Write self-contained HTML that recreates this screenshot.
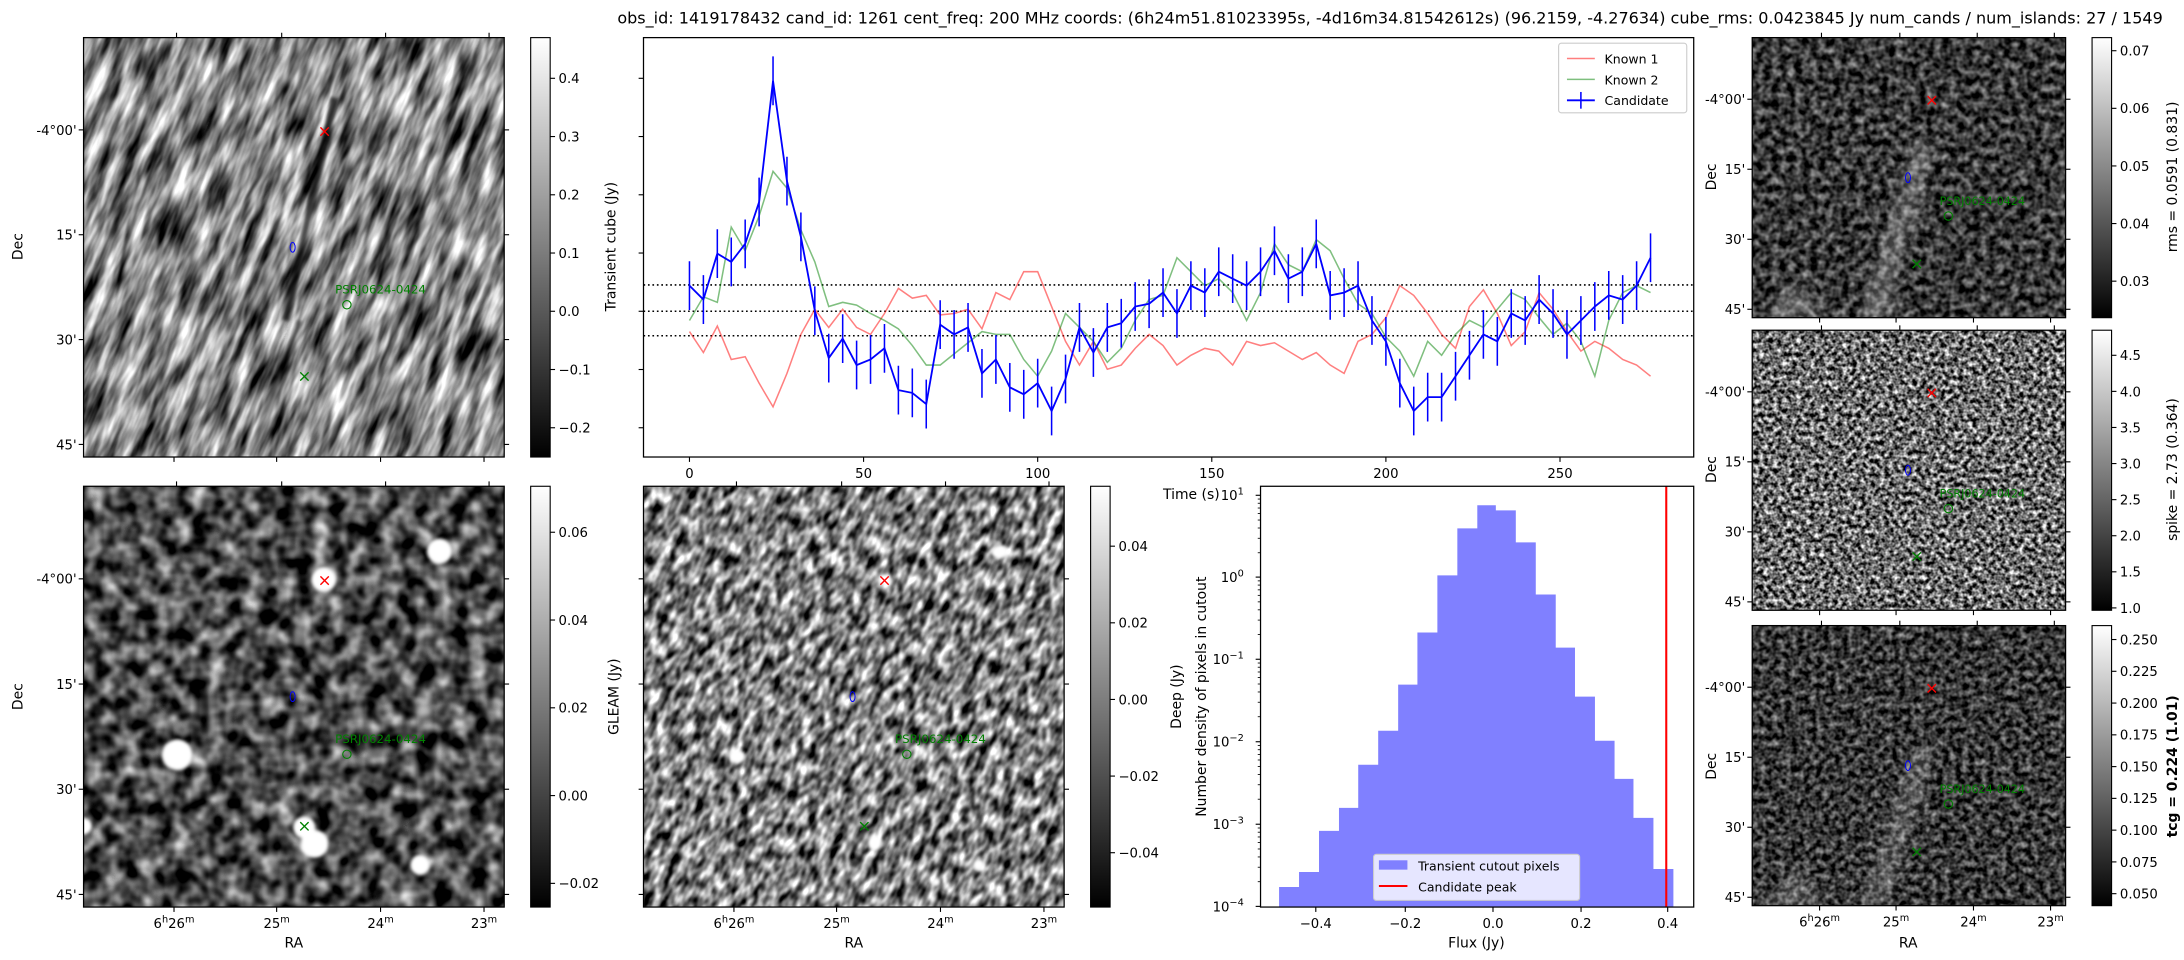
<!DOCTYPE html>
<html><head><meta charset="utf-8">
<style>
html,body{margin:0;padding:0;background:#fff;width:2184px;height:960px;overflow:hidden;}
svg{display:block;}
text{font-family:"DejaVu Sans","Liberation Sans",sans-serif;fill:#000;}
</style></head>
<body>
<svg id="s" xmlns="http://www.w3.org/2000/svg" width="2184" height="960" viewBox="0 0 1568 689" preserveAspectRatio="none">
<defs>
<filter id="fA" x="0" y="0" width="1" height="1" color-interpolation-filters="sRGB">
 <feTurbulence type="fractalNoise" baseFrequency="0.12 0.028" numOctaves="3" seed="4"/>
 <feColorMatrix type="matrix" values="1.7 0 0 0 -0.33  1.7 0 0 0 -0.33  1.7 0 0 0 -0.33  0 0 0 0 1"/>
</filter>
<filter id="fB" x="0" y="0" width="1" height="1" color-interpolation-filters="sRGB">
 <feTurbulence type="fractalNoise" baseFrequency="0.08" numOctaves="2" seed="9"/>
 <feColorMatrix type="matrix" values="1.5 0 0 0 -0.45  1.5 0 0 0 -0.45  1.5 0 0 0 -0.45  0 0 0 0 1"/>
</filter>
<filter id="fC" x="0" y="0" width="1" height="1" color-interpolation-filters="sRGB">
 <feTurbulence type="fractalNoise" baseFrequency="0.16 0.09" numOctaves="2" seed="2"/>
 <feColorMatrix type="matrix" values="1.9 0 0 0 -0.45  1.9 0 0 0 -0.45  1.9 0 0 0 -0.45  0 0 0 0 1"/>
</filter>
<filter id="fE" x="0" y="0" width="1" height="1" color-interpolation-filters="sRGB">
 <feTurbulence type="fractalNoise" baseFrequency="0.18" numOctaves="2" seed="5"/>
 <feColorMatrix type="matrix" values="1.1 0 0 0 -0.33  1.1 0 0 0 -0.33  1.1 0 0 0 -0.33  0 0 0 0 1"/>
</filter>
<filter id="fF" x="0" y="0" width="1" height="1" color-interpolation-filters="sRGB">
 <feTurbulence type="fractalNoise" baseFrequency="0.3" numOctaves="2" seed="7"/>
 <feColorMatrix type="matrix" values="2 0 0 0 -0.58  2 0 0 0 -0.58  2 0 0 0 -0.58  0 0 0 0 1"/>
</filter>
<filter id="fG" x="0" y="0" width="1" height="1" color-interpolation-filters="sRGB">
 <feTurbulence type="fractalNoise" baseFrequency="0.22" numOctaves="2" seed="11"/>
 <feColorMatrix type="matrix" values="1.1 0 0 0 -0.33  1.1 0 0 0 -0.33  1.1 0 0 0 -0.33  0 0 0 0 1"/>
</filter>
<filter id="blur1"><feGaussianBlur stdDeviation="1.2"/></filter>
<filter id="blur3"><feGaussianBlur stdDeviation="3"/></filter>
<linearGradient id="cb" x1="0" y1="1" x2="0" y2="0"><stop offset="0" stop-color="#000"/><stop offset="1" stop-color="#fff"/></linearGradient>
<clipPath id="cA"><rect x="60" y="27" width="302" height="301"/></clipPath>
<clipPath id="cB"><rect x="60" y="349" width="302" height="302"/></clipPath>
<clipPath id="cC"><rect x="462" y="349" width="302" height="302"/></clipPath>
<clipPath id="cE"><rect x="1258" y="27" width="225" height="201"/></clipPath>
<clipPath id="cF"><rect x="1258" y="237" width="225" height="201"/></clipPath>
<clipPath id="cG"><rect x="1258" y="449" width="225" height="201"/></clipPath>
</defs>

<text x="998" y="17" font-size="11.5" text-anchor="middle">obs_id: 1419178432 cand_id: 1261 cent_freq: 200 MHz coords: (6h24m51.81023395s, -4d16m34.81542612s) (96.2159, -4.27634) cube_rms: 0.0423845 Jy num_cands / num_islands: 27 / 1549</text>

<g clip-path="url(#cA)">
 <rect x="60" y="27" width="302" height="301" fill="#777"/>
 <g transform="rotate(22 211 177)"><rect x="-40" y="-80" width="500" height="520" filter="url(#fA)"/></g>
 <line x1="205" y1="230" x2="240" y2="70" stroke="#000" stroke-width="5" opacity="0.7" filter="url(#blur1)"/>
 <line x1="180" y1="328" x2="215" y2="230" stroke="#000" stroke-width="4" opacity="0.5" filter="url(#blur1)"/>
</g>
<g clip-path="url(#cB)">
 <rect x="60" y="349" width="302" height="302" filter="url(#fB)"/>
 <g fill="#fff" filter="url(#blur1)">
  <circle cx="315.5" cy="395.5" r="9"/><circle cx="232.5" cy="416" r="9"/><circle cx="127.3" cy="541.7" r="11"/>
  <circle cx="218.5" cy="593.9" r="8"/><circle cx="226" cy="605.7" r="10"/><circle cx="301.6" cy="620.8" r="7"/>
  <circle cx="60" cy="593" r="6"/>
 </g>
 <g fill="#ccc" filter="url(#blur3)"><circle cx="304" cy="510" r="5"/><circle cx="128" cy="440" r="4"/><circle cx="234" cy="473" r="4"/></g>
</g>
<g clip-path="url(#cC)">
 <rect x="462" y="349" width="302" height="302" fill="#888"/>
 <g transform="rotate(25 613 500)"><rect x="400" y="300" width="430" height="420" filter="url(#fC)"/></g>
 <g fill="#fff" filter="url(#blur1)">
  <ellipse cx="717.8" cy="396" rx="6" ry="4.5"/><ellipse cx="635" cy="416" rx="5" ry="4"/><ellipse cx="529.3" cy="543" rx="6" ry="5"/>
  <ellipse cx="628" cy="605" rx="5" ry="5.5"/><circle cx="702.7" cy="620.8" r="4"/><circle cx="672" cy="633" r="3"/>
 </g>
</g>
<g clip-path="url(#cE)">
 <rect x="1258" y="27" width="225" height="201" filter="url(#fE)"/>
 <g filter="url(#blur3)" fill="#fff" opacity="0.25">
  <polygon points="1375,100 1390,103 1355,228 1335,228"/>
  <polygon points="1265,228 1290,200 1310,228"/>
 </g>
</g>
<g clip-path="url(#cF)"><rect x="1258" y="237" width="225" height="201" filter="url(#fF)"/></g>
<g clip-path="url(#cG)">
 <rect x="1258" y="449" width="225" height="201" filter="url(#fG)"/>
 <g filter="url(#blur3)" fill="#fff" opacity="0.2">
  <polygon points="1375,535 1390,538 1355,650 1335,650"/>
  <polygon points="1265,650 1290,620 1310,650"/>
 </g>
</g>

<g id="dyn"></g>

<rect x="381" y="27" width="14" height="301" fill="url(#cb)" stroke="#000" stroke-width="0.8"/>
<rect x="381" y="349" width="14" height="302" fill="url(#cb)" stroke="#000" stroke-width="0.8"/>
<rect x="783" y="349" width="14" height="302" fill="url(#cb)" stroke="#000" stroke-width="0.8"/>
<rect x="1502" y="27" width="14" height="201" fill="url(#cb)" stroke="#000" stroke-width="0.8"/>
<rect x="1502" y="237" width="14" height="201" fill="url(#cb)" stroke="#000" stroke-width="0.8"/>
<rect x="1502" y="449" width="14" height="201" fill="url(#cb)" stroke="#000" stroke-width="0.8"/>

<text transform="translate(442 177) rotate(-90)" font-size="10" text-anchor="middle">Transient cube (Jy)</text>
<text transform="translate(444 500) rotate(-90)" font-size="10" text-anchor="middle">GLEAM (Jy)</text>
<text transform="translate(848 500) rotate(-90)" font-size="10" text-anchor="middle">Deep (Jy)</text>
<text transform="translate(866 500) rotate(-90)" font-size="10" text-anchor="middle">Number density of pixels in cutout</text>
<text x="835" y="358" font-size="10">Time (s)</text>
<text x="1060" y="680" font-size="10" text-anchor="middle">Flux (Jy)</text>
<text x="211" y="680" font-size="10" text-anchor="middle">RA</text>
<text x="613" y="680" font-size="10" text-anchor="middle">RA</text>
<text x="1370" y="680" font-size="10" text-anchor="middle">RA</text>
<text transform="translate(16 177) rotate(-90)" font-size="10" text-anchor="middle">Dec</text>
<text transform="translate(16 500) rotate(-90)" font-size="10" text-anchor="middle">Dec</text>
<text transform="translate(1232 127) rotate(-90)" font-size="10" text-anchor="middle">Dec</text>
<text transform="translate(1232 337) rotate(-90)" font-size="10" text-anchor="middle">Dec</text>
<text transform="translate(1232 550) rotate(-90)" font-size="10" text-anchor="middle">Dec</text>
<text transform="translate(1563 127) rotate(-90)" font-size="10" text-anchor="middle">rms = 0.0591 (0.831)</text>
<text transform="translate(1563 337) rotate(-90)" font-size="10" text-anchor="middle">spike = 2.73 (0.364)</text>
<text transform="translate(1563 550) rotate(-90)" font-size="10" font-weight="bold" text-anchor="middle">tcg = 0.224 (1.01)</text>
</svg>
<script>
(function(){
var g=document.getElementById("dyn");
var out="";
function L(x1,y1,x2,y2,st,w,extra){out+='<line x1="'+x1+'" y1="'+y1+'" x2="'+x2+'" y2="'+y2+'" stroke="'+st+'" stroke-width="'+(w||0.8)+'" '+(extra||'')+'/>';}
function T(x,y,s,anchor,size,fill,extra){out+='<text x="'+x+'" y="'+y+'" font-size="'+(size||9.5)+'" text-anchor="'+(anchor||'start')+'"'+(fill?' style="fill:'+fill+'"':'')+' '+(extra||'')+'>'+s+'</text>';}
function frame(x,y,w,h){out+='<rect x="'+x+'" y="'+y+'" width="'+w+'" height="'+h+'" fill="none" stroke="#000" stroke-width="0.9"/>';}
function img(x,y,w,h,labelsDec,labelsRA,big){
 frame(x,y,w,h);
 var df=[0.22,0.47,0.72,0.97],dl=["-4°00'","15'","30'","45'"];
 var tf=[0.221,0.471,0.718,0.964],bf=[0.215,0.459,0.706,0.952];
 for(var i=0;i<4;i++){var yy=y+df[i]*h;
  L(x-3.5,yy,x,yy,"#000");L(x+w,yy,x+w+3.5,yy,"#000");
  if(labelsDec)T(x-5,yy+3.5,dl[i],"end",9.5);
  L(x+tf[i]*w,y-3.5,x+tf[i]*w,y,"#000");
  L(x+bf[i]*w,y+h,x+bf[i]*w,y+h+3.5,"#000");
 }
 if(labelsRA){var rl=['6<tspan dy="-4" font-size="7">h</tspan><tspan dy="4">26</tspan><tspan dy="-4" font-size="7">m</tspan>','25<tspan dy="-4" font-size="7">m</tspan>','24<tspan dy="-4" font-size="7">m</tspan>','23<tspan dy="-4" font-size="7">m</tspan>'];
  for(var i=0;i<4;i++)T(x+bf[i]*w,y+h+15,rl[i],"middle",9.5);}
 var rx=x+0.573*w,ry=y+0.224*h;out+='<path d="M'+(rx-3)+' '+(ry-3)+'L'+(rx+3)+' '+(ry+3)+'M'+(rx+3)+' '+(ry-3)+'L'+(rx-3)+' '+(ry+3)+'" stroke="red" stroke-width="1"/>';
 var bx=x+0.497*w,by=y+0.5*h;out+='<ellipse cx="'+bx+'" cy="'+by+'" rx="1.8" ry="3.5" fill="none" stroke="blue" stroke-width="0.7"/>';
 var gx=x+0.525*w,gy=y+0.808*h;out+='<path d="M'+(gx-3)+' '+(gy-3)+'L'+(gx+3)+' '+(gy+3)+'M'+(gx+3)+' '+(gy-3)+'L'+(gx-3)+' '+(gy+3)+'" stroke="green" stroke-width="1"/>';
 var cx=x+0.626*w,cy=y+0.637*h;out+='<circle cx="'+cx+'" cy="'+cy+'" r="3" fill="none" stroke="green" stroke-width="0.8"/>';
 T(x+0.598*w,cy-8,"PSRJ0624-0424","start",big?8.5:8,"green");
}
img(60,27,302,301,true,false,true);
img(60,349,302,302,true,true,true);
img(462,349,302,302,false,true,true);
img(1258,27,225,201,true,false);
img(1258,237,225,201,true,false);
img(1258,449,225,201,true,true);
function cbt(x,arr){arr.forEach(function(a){L(x+14,a[1],x+17.5,a[1],"#000");T(x+20,a[1]+3.5,a[0],"start",9.5);});}
var ta=[];[0.4,0.3,0.2,0.1,0,-0.1,-0.2].forEach(function(v){ta.push([(v<0?"−":"")+Math.abs(v).toFixed(1),223.4-v*418]);});cbt(381,ta);
var tb=[];[0.06,0.04,0.02,0,-0.02].forEach(function(v,i){tb.push([(v<0?"−":"")+Math.abs(v).toFixed(2),382+i*63]);});cbt(381,tb);
var tc=[];[0.04,0.02,0,-0.02,-0.04].forEach(function(v,i){tc.push([(v<0?"−":"")+Math.abs(v).toFixed(2),392+i*55]);});cbt(783,tc);
var te=[];["0.07","0.06","0.05","0.04","0.03"].forEach(function(v,i){te.push([v,36.4+i*41.35]);});cbt(1502,te);
var tf2=[];["4.5","4.0","3.5","3.0","2.5","2.0","1.5","1.0"].forEach(function(v,i){tf2.push([v,255+i*25.9]);});cbt(1502,tf2);
var tg=[];["0.250","0.225","0.200","0.175","0.150","0.125","0.100","0.075","0.050"].forEach(function(v,i){tg.push([v,459+i*22.8]);});cbt(1502,tg);

var X0=462,Y0=27,W=754,H=301;
var blue=[205,215,182,188,175,145,58,130,170,223,257,243,262,258,250,280,282,290,233,240,235,268,258,278,283,275,295,272,235,253,235,232,220,218,210,225,205,210,195,200,205,195,180,200,195,175,212,210,205,230,245,275,295,285,285,270,255,240,245,225,230,215,225,240,230,220,212,215,205,185];
var red=[238,253,234,258,256,275,292,268,240,222,235,222,235,240,225,207,214,212,226,225,222,236,210,215,195,195,220,245,262,245,265,262,250,240,248,262,255,250,252,262,245,248,246,252,258,253,262,268,245,240,228,205,212,225,240,250,220,208,225,248,238,210,222,238,252,245,250,258,262,270];
var green=[230,213,217,163,180,155,123,135,165,188,220,217,219,225,230,236,248,262,262,254,246,238,240,240,258,270,252,225,235,245,260,250,230,215,212,185,195,205,200,210,230,210,175,190,195,172,180,200,218,225,242,252,270,245,255,240,230,235,222,210,215,228,240,232,245,270,230,210,205,210];
function pl(a,c,w,op){var p=a.map(function(y,i){return (495+10*i)+","+y;}).join(" ");out+='<polyline points="'+p+'" fill="none" stroke="'+c+'" stroke-width="'+w+'" opacity="'+op+'"/>';}
[204.5,223.4,241].forEach(function(y){L(X0,y,X0+W,y,"#000",1.1,'stroke-dasharray="1.2 2"');});
pl(red,"#ff0000",1.1,0.5);pl(green,"#008000",1.1,0.5);
var eb="";blue.forEach(function(y,i){var x=495+10*i;eb+="M"+x+" "+(y-17.5)+"V"+(y+17.5);});
out+='<path d="'+eb+'" stroke="blue" stroke-width="1.1"/>';
pl(blue,"blue",1.3,1);
frame(X0,Y0,W,H);
[0.4,0.3,0.2,0.1,0,-0.1,-0.2].forEach(function(v){var y=223.4-v*418;L(X0-3.5,y,X0,y,"#000");});
[0,50,100,150,200,250].forEach(function(t){var x=495+2.5*t;L(x,Y0+H,x,Y0+H+3.5,"#000");T(x,Y0+H+15,t,"middle",9.5);});
out+='<rect x="1119" y="31" width="92" height="50" rx="2" fill="#fff" fill-opacity="0.8" stroke="#ccc" stroke-width="0.8"/>';
L(1125,42,1145,42,"#ff0000",1.1,'opacity="0.5"');T(1152,45.5,"Known 1","start",9);
L(1125,57,1145,57,"#008000",1.1,'opacity="0.5"');T(1152,60.5,"Known 2","start",9);
L(1125,72,1145,72,"blue",1.3);L(1135,66,1135,78,"blue",1.1);T(1152,75.5,"Candidate","start",9);

var HX=905,HY=349,HW=311,HH=302;
function zx(v){return HX+(v-278)/1215*HW;}function zy(v){return HY+(v-48)/1260*HH;}
var edges=[330,386,442,498,552,608,664,718,774,830,886,938,994,1050,1106,1160,1216,1271,1324,1380,1436];
var tops=[1248,1203,1080,1011,882,780,642,486,315,174,105,120,216,372,531,678,810,924,1041,1194];
var d="";for(var i=0;i<20;i++){d+="M"+zx(edges[i])+" "+(HY+HH)+"V"+zy(tops[i])+"H"+zx(edges[i+1])+"V"+(HY+HH)+"Z";}
out+='<path d="'+d+'" fill="#8080ff"/>';
L(zx(1416),HY,zx(1416),HY+HH,"red",1.5);
frame(HX,HY,HW,HH);
[[433,"−0.4"],[684,"−0.2"],[930,"0.0"],[1177,"0.2"],[1420,"0.4"]].forEach(function(a){var x=zx(a[0]);L(x,HY+HH,x,HY+HH+3.5,"#000");T(x,HY+HH+15,a[1],"middle",9.5);});
var dec=[75,320,566,813,1060,1306],ex=["1","0","−1","−2","−3","−4"];
dec.forEach(function(v,i){var y=zy(v);L(HX-3.5,y,HX,y,"#000");T(HX-12,y+3.5,'10<tspan dy="-4" font-size="7">'+ex[i]+'</tspan>',"end",9.5);
 if(i<5){for(var k=2;k<10;k++){var yy=zy(v+246.2*(1-Math.log10(k)));L(HX-2,yy,HX,yy,"#000",0.6);}}});
for(var k=2;k<10;k++){var yy=zy(75-246.2*Math.log10(k));if(yy>HY)L(HX-2,yy,HX,yy,"#000",0.6);}
out+='<rect x="'+zx(595)+'" y="'+zy(1150)+'" width="'+(zx(1173)-zx(595))+'" height="'+(zy(1288)-zy(1150))+'" rx="2" fill="#fff" fill-opacity="0.8" stroke="#ccc" stroke-width="0.8"/>';
out+='<rect x="'+zx(610)+'" y="'+zy(1168)+'" width="'+(zx(690)-zx(610))+'" height="'+(zy(1196)-zy(1168))+'" fill="#8080ff"/>';
T(zx(720),zy(1198),"Transient cutout pixels","start",9);
L(zx(610),zy(1245),zx(690),zy(1245),"red",1.5);T(zx(720),zy(1262),"Candidate peak","start",9);
g.innerHTML=out;
})();
</script>
</body></html>
